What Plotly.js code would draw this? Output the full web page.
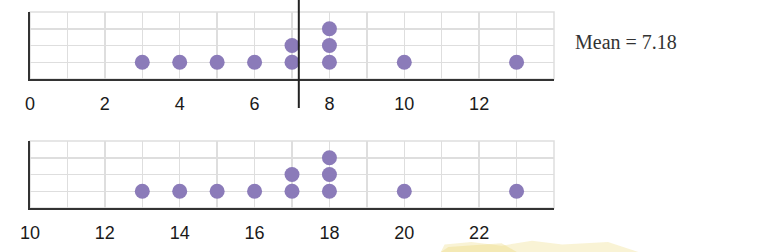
<!DOCTYPE html>
<html>
<head>
<meta charset="utf-8">
<script src="https://cdn.plot.ly/plotly-3.0.1.min.js"></script>
<style>html,body{margin:0;padding:0;background:#fff;}#chart{width:760px;height:252px;}</style>
</head>
<body>
<div id="chart"></div>
<script>
// Data
const topValues = [3, 4, 5, 6, 7, 7, 8, 8, 8, 10, 13];
const bottomValues = [13, 14, 15, 16, 17, 17, 18, 18, 18, 20, 23];
const topRange = [0, 14];
const bottomRange = [10, 24];
const topTicks = [0, 2, 4, 6, 8, 10, 12];
const bottomTicks = [10, 12, 14, 16, 18, 20, 22];

function stack(values) {
  const seen = {};
  const xs = [], ys = [];
  values.forEach(v => {
    seen[v] = (seen[v] || 0) + 1;
    xs.push(v); ys.push(seen[v]);
  });
  return {xs, ys};
}
const topStack = stack(topValues);
const botStack = stack(bottomValues);
const mean = topValues.reduce((a, b) => a + b, 0) / topValues.length;

const dotColor = '#8b7bb9';
const gridColor = '#dedede';
const axisColor = '#333333';

const traces = [
  {x: topStack.xs, y: topStack.ys, type: 'scatter', mode: 'markers', xaxis: 'x', yaxis: 'y',
   marker: {size: 15, color: dotColor}, hoverinfo: 'x'},
  {x: botStack.xs, y: botStack.ys, type: 'scatter', mode: 'markers', xaxis: 'x2', yaxis: 'y2',
   marker: {size: 15, color: dotColor}, hoverinfo: 'x'}
];

function xaxisDef(range, ticks, anchor) {
  return {
    domain: [30/760, 554/760], range: range, anchor: anchor,
    tickmode: 'array', tickvals: ticks, ticktext: ticks.map(String),
    showgrid: true, gridcolor: gridColor, gridwidth: 1.5,
    minor: {dtick: 1, showgrid: true, gridcolor: gridColor, gridwidth: 1.5},
    showline: true, linecolor: axisColor, linewidth: 2,
    zeroline: false, ticks: '', ticklabelstandoff: 7,
    tickfont: {family: 'Liberation Sans, Arial, sans-serif', size: 18, color: '#1a1a1a'},
    fixedrange: true
  };
}
function yaxisDef(domain, anchor) {
  return {
    domain: domain, range: [0, 4], anchor: anchor,
    dtick: 1, tick0: 0, showticklabels: false, ticks: '',
    showgrid: true, gridcolor: gridColor, gridwidth: 1.5,
    showline: true, linecolor: axisColor, linewidth: 2,
    zeroline: false, fixedrange: true
  };
}

const layout = {
  width: 760, height: 252,
  margin: {l: 0, r: 0, t: 0, b: 0},
  paper_bgcolor: '#ffffff', plot_bgcolor: '#ffffff',
  showlegend: false,
  xaxis: xaxisDef(topRange, topTicks, 'y'),
  yaxis: yaxisDef([1 - 79/252, 1 - 12/252], 'x'),
  xaxis2: xaxisDef(bottomRange, bottomTicks, 'y2'),
  yaxis2: yaxisDef([1 - 208/252, 1 - 141/252], 'x2'),
  shapes: [
    {type: 'rect', xref: 'x domain', yref: 'y domain', x0: 0, x1: 1, y0: 0, y1: 1,
     line: {color: gridColor, width: 1.5}, layer: 'below'},
    {type: 'rect', xref: 'x2 domain', yref: 'y2 domain', x0: 0, x1: 1, y0: 0, y1: 1,
     line: {color: gridColor, width: 1.5}, layer: 'below'},
    {type: 'line', xref: 'x', yref: 'paper', x0: mean, x1: mean, y0: 1, y1: 1 - 108/252,
     line: {color: '#222222', width: 2}},
    {type: 'path', xref: 'paper', yref: 'paper', layer: 'below',
     path: 'M 0.58 0 L 0.585 0.03 L 0.62 0.04 L 0.66 0.025 L 0.70 0.045 L 0.74 0.03 L 0.80 0.04 L 0.84 0 Z',
     fillcolor: 'rgba(240,225,150,0.4)', line: {width: 0}},
    {type: 'path', xref: 'paper', yref: 'paper', layer: 'below',
     path: 'M 0.58 0 L 0.59 0.02 L 0.66 0.035 L 0.68 0 Z',
     fillcolor: 'rgba(235,215,120,0.35)', line: {width: 0}}
  ],
  annotations: [
    {text: 'Mean = ' + mean.toFixed(2), xref: 'paper', yref: 'paper',
     x: 573/760, y: 1 - 42/252, xanchor: 'left', yanchor: 'middle', showarrow: false,
     font: {family: 'Liberation Serif, Times New Roman, serif', size: 20, color: '#333'}}
  ]
};

Plotly.newPlot('chart', traces, layout, {displayModeBar: false, staticPlot: true});
</script>
</body>
</html>
